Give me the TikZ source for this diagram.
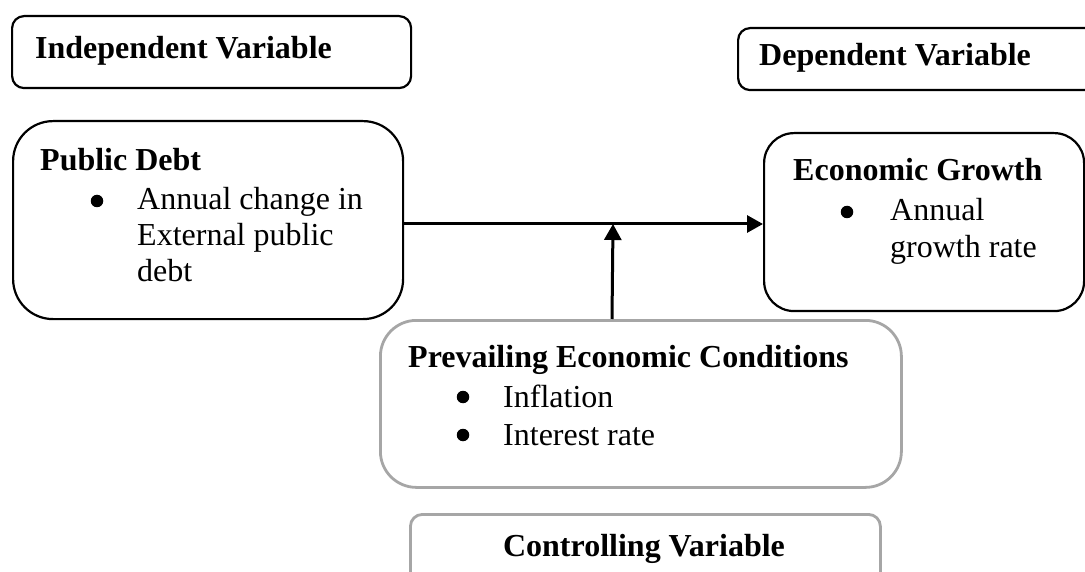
\documentclass[tikz,border=0pt]{standalone}
\usepackage{fontspec}
\setmainfont{Liberation Serif}
\usetikzlibrary{arrows.meta}
\definecolor{boxgray}{HTML}{A6A6A6}
\begin{document}
\begin{tikzpicture}[x=1pt,y=-1pt,
  font=\fontsize{32}{37}\selectfont,
  blackbox/.style={draw=black, line width=2.2pt, anchor=north west, inner sep=0pt},
  graybox/.style={draw=boxgray, line width=2.8pt, anchor=north west, inner sep=0pt},
  txt/.style={anchor=base west, inner sep=0pt},
  hd/.style={txt, font=\fontsize{32}{37}\selectfont\bfseries},
  bul/.style={circle, fill=black, draw=none, inner sep=0pt, minimum size=12.5pt},
  arr/.style={draw=black, line width=3pt, -{Triangle[length=16pt,width=17pt]}}]
\path[use as bounding box, clip] (0,0) rectangle (1085,572);

% boxes
\node[blackbox, rounded corners=12pt, minimum width=399pt, minimum height=72pt] (ind) at (11,15) {};
\node[blackbox, rounded corners=12pt, minimum width=360pt, minimum height=62pt] (dep) at (737,27) {};
\node[blackbox, rounded corners=40pt, minimum width=390pt, minimum height=198pt] (pd) at (12,120) {};
\node[blackbox, rounded corners=30pt, minimum width=320pt, minimum height=178pt] (eg) at (763,132) {};
\node[graybox, rounded corners=36pt, minimum width=521pt, minimum height=167pt] (pec) at (379,319) {};
\node[graybox, rounded corners=12pt, minimum width=470pt, minimum height=90pt] (cv) at (409,513) {};

% texts
\node[hd] (indt) at (35,59) {Independent Variable};
\node[hd] (dept) at (759,66) {Dependent Variable};

\node[hd] (pdt) at (40,171) {Public Debt};
\node[bul] (pdb) at (97,201) {};
\node[txt] (pd1) at (137,210) {Annual change in};
\node[txt] (pd2) at (137,246) {External public};
\node[txt] (pd3) at (137,282) {debt};

\node[hd] (egt) at (793,181) {Economic Growth};
\node[bul] (egb) at (847,212) {};
\node[txt] (eg1) at (890,221) {Annual};
\node[txt] (eg2) at (890,258) {growth rate};

\node[hd] (pect) at (408,367) {Prevailing Economic Conditions};
\node[bul] (pecb1) at (463,397) {};
\node[txt] (pec1) at (503,407) {Inflation};
\node[bul] (pecb2) at (463,435) {};
\node[txt] (pec2) at (503,445) {Interest rate};

\node[hd, anchor=base] (cvt) at (644,556) {Controlling Variable};

% connectors
\coordinate (j) at (613,224);
\coordinate (vb) at (612,319);
\draw[arr] (pd.east |- j) -- (eg.west |- j);
\draw[arr] (pec.north -| vb) -- (j);
\end{tikzpicture}
\end{document}
